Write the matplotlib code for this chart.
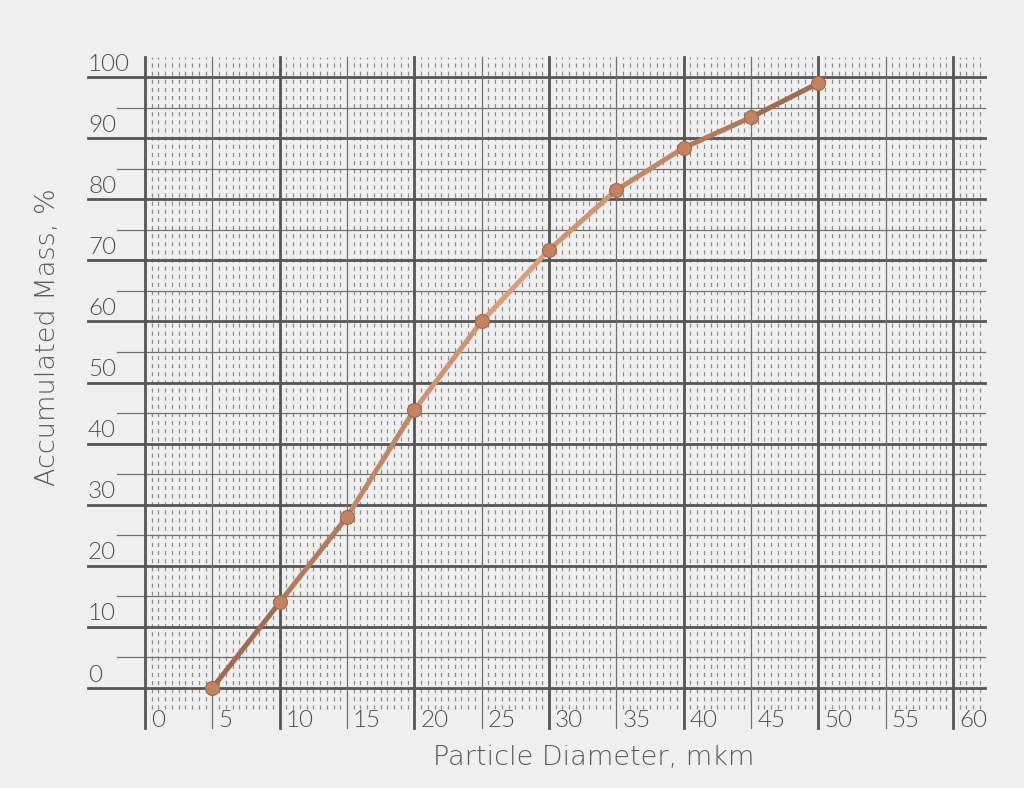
import matplotlib
matplotlib.use("Agg")
import matplotlib.pyplot as plt
import numpy as np
from matplotlib.collections import LineCollection

# ---- data ----
diameter = [5, 10, 15, 20, 25, 30, 35, 40, 45, 50]
mass = [0, 14, 28, 45.5, 60, 71.7, 81.5, 88.4, 93.4, 99]
x_ticks = [0, 5, 10, 15, 20, 25, 30, 35, 40, 45, 50, 55, 60]
y_ticks = [0, 10, 20, 30, 40, 50, 60, 70, 80, 90, 100]
x_label = "Particle Diameter, mkm"
y_label = "Accumulated Mass, %"

# ---- layout (pixel mapping) ----
W, H = 1024, 788
px_x0, px_x60 = 145.0, 953.0
px_y0, px_y100 = 688.0, 77.0
sx = (px_x60 - px_x0) / 60.0
sy = (px_y0 - px_y100) / 100.0

def dx(px):
    return (px - px_x0) / sx

def dy(py):
    return (px_y0 - py) / sy

bg = "#efefef"
fig = plt.figure(figsize=(W / 100, H / 100), dpi=100, facecolor=bg)
ax = fig.add_axes([0, 0, 1, 1])
ax.set_facecolor(bg)
ax.set_xlim(dx(0), dx(W))
ax.set_ylim(dy(H), dy(0))
ax.axis("off")

tick_font = dict(family=["Lato", "DejaVu Sans"], fontweight=300, color="#4e4e4e")
label_font = dict(family=["DejaVu Sans"], fontweight="light", color="#5a5a5a")

top = dy(57)
bot_major = dy(728)
bot_dash = dy(709)
left_major = dx(88)
left_minor = dx(117)
right = dx(985)

# minor dashed vertical lines every 0.5
for v in np.arange(0.5, 62.01, 0.5):
    if abs(v / 5 - round(v / 5)) < 1e-6:
        continue
    ax.plot([v, v], [bot_dash, top], color="#8c8c8c", lw=0.9,
            dashes=(3.3, 3.2), zorder=1)

# horizontal lines
for h in range(0, 101, 5):
    if h % 10 == 0:
        ax.plot([left_major, right], [h, h], color="#555555", lw=2.0, zorder=2)
    else:
        ax.plot([left_minor, right], [h, h], color="#707070", lw=0.9, zorder=2)

# vertical lines
for v in range(0, 61, 5):
    if v % 10 == 0:
        ax.plot([v, v], [bot_major, top], color="#555555", lw=2.0, zorder=2)
    else:
        ax.plot([v, v], [bot_major, top], color="#707070", lw=0.9, zorder=2)

# tick labels
for t in y_ticks:
    ax.text(left_major, t + 0.4, str(t), ha="left", va="bottom", fontsize=17.5, **tick_font)
for t in x_ticks:
    ax.text(t + 0.45, bot_major + 0.15, str(t), ha="left", va="baseline", fontsize=17.5, **tick_font)

# axis labels
ax.text(dx(594), dy(758), x_label, ha="center", va="center", fontsize=19.5, **label_font)
ax.text(dx(48), dy(337), y_label, ha="center", va="center", rotation=90, fontsize=19.5, **label_font)

# gradient line
pts = np.column_stack([diameter, mass])
segs = np.stack([pts[:-1], pts[1:]], axis=1)
c_dark = np.array([0.60, 0.39, 0.28])
c_light = np.array([0.86, 0.62, 0.47])
n = len(segs)
cols = []
for i in range(n):
    t = (i + 0.5) / n
    w = 1 - abs(2 * t - 1) ** 1.2
    cols.append(c_dark * (1 - w) + c_light * w)
lc = LineCollection(segs, colors=cols, linewidths=3.6, capstyle="round",
                    joinstyle="round", zorder=5)
ax.add_collection(lc)

ax.plot(diameter, mass, "o", ms=10, mfc="#c4835e", mec="#a06a4a", mew=0.8, zorder=6)

fig.savefig("out.png", dpi=100, facecolor=bg)
